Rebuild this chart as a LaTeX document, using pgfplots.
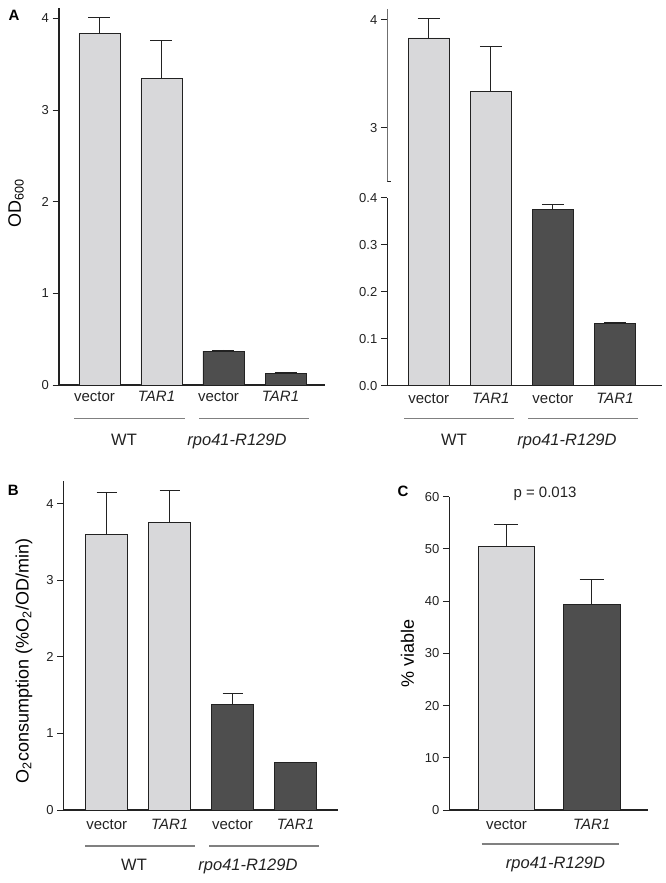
\documentclass[border=0pt]{standalone}
\usepackage{pgfplots}
\pgfplotsset{compat=1.18}
\usepackage{fontspec}
\setmainfont{Liberation Sans}
\definecolor{lightbar}{HTML}{D8D8DA}
\definecolor{darkbar}{HTML}{4E4E4E}
\definecolor{grpline}{HTML}{808080}
\definecolor{axcol}{HTML}{222222}
\newcommand{\tickfont}{\fontsize{13}{15}\selectfont}
\newcommand{\catfont}{\fontsize{15}{17}\selectfont}
\newcommand{\grpfont}{\fontsize{16.5}{19}\selectfont}
\newcommand{\labfont}{\fontsize{18}{21}\selectfont}
\newcommand{\panfont}{\fontsize{15}{17}\selectfont\bfseries}
\pgfplotsset{
  panel/.style={
    scale only axis, anchor=south west,
    axis x line*=bottom, axis y line*=left,
    axis line style={line width=1.1pt, axcol},
    ytick style={line width=1pt, axcol},
    xtick style={draw=none},
    tick align=outside, major tick length=6.5pt,
    ticklabel style={font=\tickfont, text=axcol},
    xticklabel style={font=\catfont, anchor=base},
    /pgf/number format/assume math mode=true,
    ybar, bar shift=0pt,
  },
  lbar/.style={fill=lightbar, draw=axcol, line width=0.8pt},
  dbar/.style={fill=darkbar, draw=axcol, line width=0.8pt},
  ebar/.style={error bars/.cd, y dir=plus, y explicit,
    error bar style={line width=0.9pt, axcol},
    error mark=|, error mark options={mark size=#1, line width=0.9pt, axcol}},
  ebar/.default=11pt,
}
\begin{document}
\begin{tikzpicture}
\path[use as bounding box] (0,0) rectangle (665pt,-883pt);

% ---------- Panel A left ----------
\begin{axis}[panel, at={(59pt,-385pt)}, width=266pt, height=376.7pt,
  xmin=0.347, xmax=4.637, ymin=0, ymax=4.11, ytick={0,1,2,3,4},
  xtick={1,2,3,4}, xticklabels={vector,\textit{TAR1},vector,\textit{TAR1}},
  xticklabel style={xshift=-5pt, yshift=-10.2pt}, bar width=41pt]
\addplot[lbar, ebar] coordinates {(1,3.835) +- (0,0.175) (2,3.34) +- (0,0.42)};
\addplot[dbar, ebar] coordinates {(3,0.37) +- (0,0.012) (4,0.13) +- (0,0.003)};
\end{axis}

% ---------- Panel A right (broken axis) ----------
\begin{axis}[panel, at={(387.3pt,-385.7pt)}, width=274.4pt, height=376.4pt,
  xmin=0.333, xmax=4.752, ymin=0.606, ymax=4.099, ytick={3,4}, xtick=\empty,
  axis line style={draw=none}, bar width=41.3pt]
\addplot[lbar, ebar] coordinates {(1,3.833) +- (0,0.177) (2,3.34) +- (0,0.416)};
\draw[line width=1.1pt, axcol] (rel axis cs:0,1) -- (axis cs:0.333,2.5);
\draw[line width=1pt, axcol] ([xshift=-3.5pt]axis cs:0.333,2.5) -- ([xshift=4pt]axis cs:0.333,2.5);
\end{axis}
\begin{axis}[panel, at={(387.3pt,-385.7pt)}, width=274.4pt, height=188pt,
  xmin=0.333, xmax=4.752, ymin=0, ymax=0.4, ytick={0,0.1,0.2,0.3,0.4},
  yticklabel style={/pgf/number format/.cd,fixed,fixed zerofill,precision=1},
  xtick={1,2,3,4}, xticklabels={vector,\textit{TAR1},vector,\textit{TAR1}},
  xticklabel style={yshift=-11.1pt}, bar width=41.3pt]
\addplot[dbar, ebar] coordinates {(3,0.375) +- (0,0.011) (4,0.133) +- (0,0.002)};
\end{axis}

% ---------- Panel B ----------
\begin{axis}[panel, at={(63.7pt,-810pt)}, width=274.3pt, height=329pt,
  xmin=0.317, xmax=4.675, ymin=0, ymax=4.295, ytick={0,1,2,3,4},
  xtick={1,2,3,4}, xticklabels={vector,\textit{TAR1},vector,\textit{TAR1}},
  xticklabel style={yshift=-12.8pt}, bar width=42pt]
\addplot[lbar, ebar=10pt] coordinates {(1,3.594) +- (0,0.546) (2,3.756) +- (0,0.414)};
\addplot[dbar, ebar=10pt] coordinates {(3,1.38) +- (0,0.138) (4,0.617) +- (0,0.005)};
\end{axis}

% ---------- Panel C ----------
\begin{axis}[panel, at={(449.3pt,-810pt)}, width=199pt, height=313.3pt,
  xmin=0.329, xmax=2.664, ymin=0, ymax=60, ytick={0,10,20,30,40,50,60},
  xtick={1,2}, xticklabels={vector,\textit{TAR1}},
  xticklabel style={yshift=-12.8pt}, bar width=56.4pt]
\addplot[lbar, ebar=12pt] coordinates {(1,50.4) +- (0,4.2)};
\addplot[dbar, ebar=12pt] coordinates {(2,39.46) +- (0,4.64)};
\end{axis}

% ---------- annotations ----------
\node[font=\panfont] at (14pt,-15pt) {A};
\node[font=\panfont] at (13.3pt,-490.5pt) {B};
\node[font=\panfont] at (403pt,-491pt) {C};

\node[rotate=90, font=\labfont] at (16pt,-203pt) {OD\textsubscript{600}};
\node[rotate=90, font=\labfont] at (24pt,-661pt) {O\textsubscript{2}consumption (\%O\textsubscript{2}/OD/min)};
\node[rotate=90, font=\labfont] at (407.5pt,-653pt) {\% viable};

\begin{scope}[grpline, line width=1.2pt]
\draw (74.3pt,-418.3pt) -- (185pt,-418.3pt);
\draw (199pt,-418.3pt) -- (309.3pt,-418.3pt);
\draw (404pt,-418.3pt) -- (514.3pt,-418.3pt);
\draw (528pt,-418.3pt) -- (638.3pt,-418.3pt);
\draw (85pt,-846pt) -- (195pt,-846pt);
\draw (209pt,-846pt) -- (319.3pt,-846pt);
\draw (481.7pt,-844pt) -- (619.3pt,-844pt);
\end{scope}

\begin{scope}[every node/.style={font=\grpfont, anchor=base, text=axcol}]
\node at (124pt,-445pt) {WT};
\node at (237pt,-445pt) {\textit{rpo41-R129D}};
\node at (454pt,-445pt) {WT};
\node at (567pt,-445pt) {\textit{rpo41-R129D}};
\node at (134pt,-870.7pt) {WT};
\node at (248pt,-870.7pt) {\textit{rpo41-R129D}};
\node at (555.5pt,-868pt) {\textit{rpo41-R129D}};
\node[font=\catfont] at (545pt,-497pt) {p = 0.013};
\end{scope}
\end{tikzpicture}
\end{document}
